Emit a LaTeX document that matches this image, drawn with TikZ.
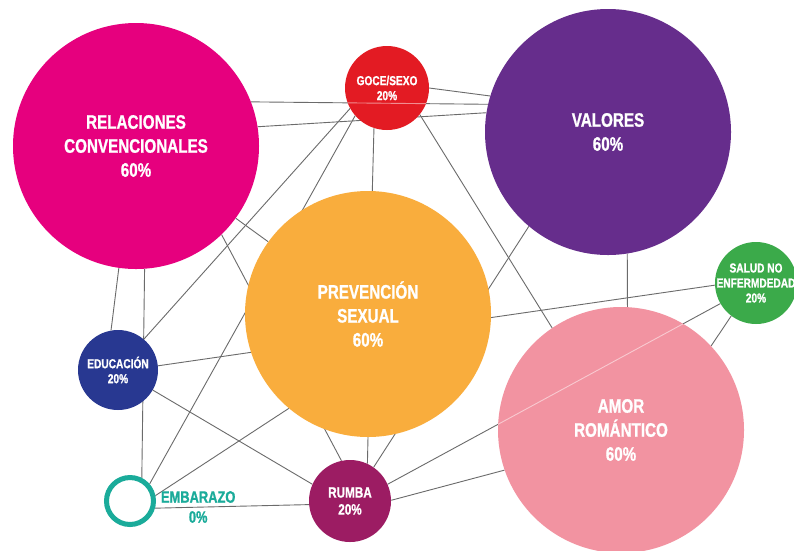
\documentclass[tikz,border=0pt]{standalone}
\usepackage{fontspec}
\setmainfont[FakeStretch=0.78, BoldFeatures={FakeBold=1}]{Liberation Sans}
\usetikzlibrary{backgrounds}
\usepackage{xcolor}

\definecolor{relColor}{HTML}{E6007E}
\definecolor{goceColor}{HTML}{E31B23}
\definecolor{valColor}{HTML}{662D8C}
\definecolor{saludColor}{HTML}{3BAA4A}
\definecolor{prevColor}{HTML}{F9AD3D}
\definecolor{eduColor}{HTML}{283891}
\definecolor{amorColor}{HTML}{F293A1}
\definecolor{rumbaColor}{HTML}{9C1C63}
\definecolor{embColor}{HTML}{1AAB9A}

\begin{document}
\begin{tikzpicture}[ x=1pt, y=-1pt, bubble/.style={ circle, inner sep=0pt, align=center, text=white }, bigbubble/.style={ bubble, minimum size=246pt, font=\bfseries\fontsize{19.5}{24}\selectfont }, smallbubble/.style={ bubble, minimum size=#1, font=\bfseries\fontsize{13}{15}\selectfont }, link/.style={ draw=black!58, line width=0.9pt }, glow/.style={ draw=white, opacity=0.5, line width=0.9pt } ]
\useasboundingbox (0,0) rectangle (794,550);

% --- Burbujas grandes ---
\node[bigbubble, fill=relColor] (relaciones) at (136,146) {RELACIONES\\CONVENCIONALES\\60\%};

\node[bigbubble, fill=valColor] (valores) at (608,132) {VALORES\\60\%};

\node[bigbubble, fill=prevColor] (prevencion) at (368,314) {PREVENCIÓN\\SEXUAL\\60\%};

\node[bigbubble, fill=amorColor] (amor) at (621,430) {AMOR\\ROMÁNTICO\\60\%};


% --- Burbujas chicas ---
\node[smallbubble=84pt, fill=goceColor] (goce) at (387,88) {GOCE/SEXO\\20\%};

\node[smallbubble=82pt, fill=saludColor] (salud) at (756,283) {SALUD NO\\\makebox[56pt]{ENFERMDEDAD}\\20\%};

\node[smallbubble=80pt, fill=eduColor] (educacion) at (118,370) {EDUCACIÓN\\20\%};

\node[smallbubble=82pt, fill=rumbaColor, font=\bfseries\fontsize{15}{17}\selectfont] (rumba) at (350,501) {RUMBA\\20\%};

\node[circle, draw=embColor, fill=white, line width=5pt, inner sep=0pt, minimum size=47pt, label={[text=embColor, align=center, font=\bfseries\fontsize{16.5}{20}\selectfont, xshift=1.5pt, yshift=-6pt]right:{EMBARAZO\\0\%}}] (embarazo) at (130,501) {};


% --- Conexiones ---
\begin{scope}[on background layer]
\fill[white] (0,0) rectangle (794,550);
\draw[link] (relaciones.21) -- (valores.167); \draw[link] (relaciones.9) -- (valores.171); \draw[link] (goce.0) -- (valores.163);
\draw[link] (relaciones) -- (prevencion); \draw[link] (relaciones.-46) -- (rumba.102); \draw[link] (relaciones.262) -- (educacion.100); \draw[link] (relaciones.-86) -- (embarazo.63);
\draw[link] (educacion.50) -- (goce.209); \draw[link] (educacion.6) -- (salud.183); \draw[link] (educacion.-30) -- (rumba.156);
\draw[link] (embarazo.41) -- (goce.221); \draw[link] (embarazo.12) -- (prevencion.230); \draw[link] (embarazo.-16) -- (rumba.185);
\draw[link] (goce.252) -- (prevencion.88); \draw[link] (goce.-39) -- (amor.124);
\draw[link] (prevencion.-90) -- (rumba.65);
\draw[link] (rumba.55) -- (valores.230); \draw[link] (rumba.24) -- (salud.210); \draw[link] (rumba.1) -- (amor.199);
\draw[link] (valores.-81) -- (amor.87); \draw[link] (salud.233) -- (amor.43);
\end{scope}

% --- Trazos que cruzan por encima ---
\begin{scope}
\clip (goce.center) circle[radius=42pt];
\draw[glow] (relaciones.21) -- (valores.167);
\end{scope}
\begin{scope}
\clip (amor.center) circle[radius=123pt];
\draw[glow] (rumba.24) -- (salud.210);
\end{scope}
\end{tikzpicture}
\end{document}
